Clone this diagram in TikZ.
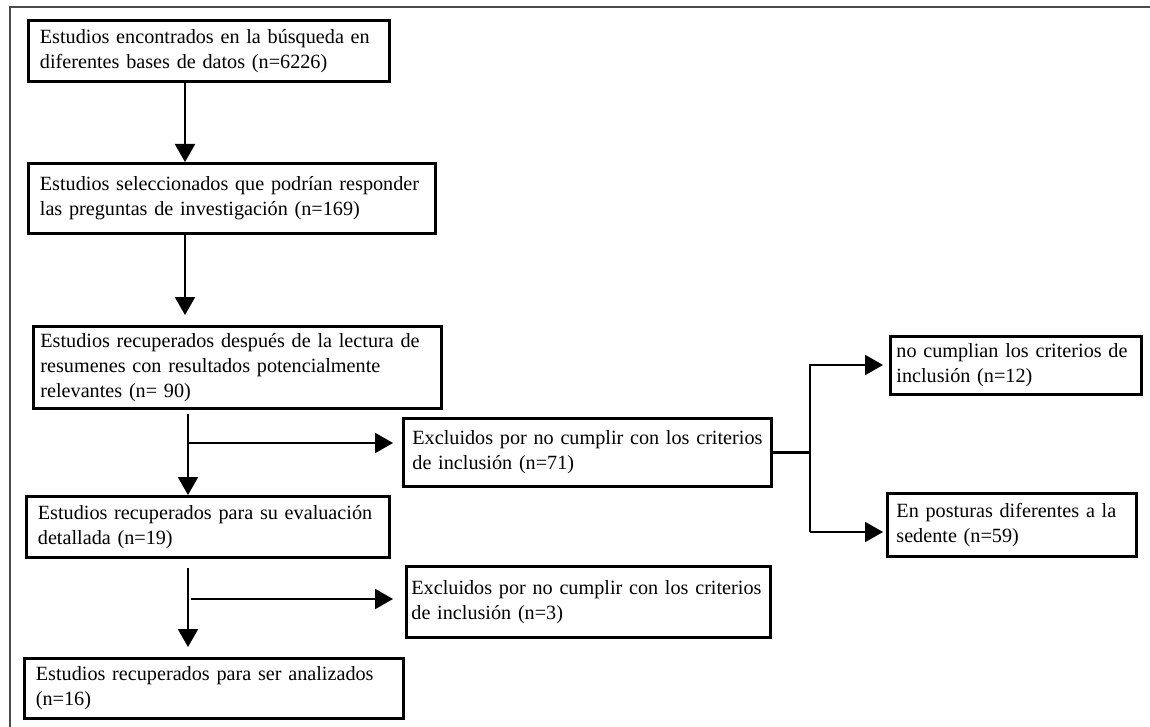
\documentclass[tikz,border=0pt]{standalone}
\usepackage{fontspec}
\setmainfont{Liberation Serif}
\usepackage{tikz}
\usetikzlibrary{arrows.meta}

\begin{document}
\begin{tikzpicture}[x=1pt,y=-1pt]
						\tikzstyle{caja}=[draw=black,line width=2.8pt,anchor=north west,align=left,inner xsep=11.5pt,inner ysep=0pt,font=\fontsize{20.2}{25}\selectfont]
						\tikzstyle{linea}=[line width=2.3pt]
						\tikzstyle{flecha}=[linea,-{Triangle[length=18pt,width=20pt]}]
						\useasboundingbox (0,0) rectangle (1150,727);
						\draw[line width=1.3pt,black!70] (10,727) -- (10,7) -- (1150,7);
						% columna principal
						\node[caja,text width=338pt,minimum height=61pt](enc) at (27,19) {\mbox{Estudios encontrados en la búsqueda en}\\ \mbox{diferentes bases de datos (n=6226)}};
						\node[caja,text width=384pt,minimum height=70pt](sel) at (27,162) {\mbox{Estudios seleccionados que podrían responder}\\ \mbox{las preguntas de investigación (n=169)}};
						\node[caja,inner xsep=7pt,text width=394pt,minimum height=82pt](rec) at (32,325) {\mbox{Estudios recuperados después de la lectura de}\\ \mbox{resumenes con resultados potencialmente}\\ \mbox{relevantes (n= 90)}};
						\node[caja,text width=340pt,minimum height=61pt](eva) at (25,495) {\mbox{Estudios recuperados para su evaluación}\\ \mbox{detallada (n=19)}};
						\node[caja,text width=356pt,minimum height=60pt](ana) at (23,657) {\mbox{Estudios recuperados para ser analizados}\\ \mbox{(n=16)}};
						% excluidos
						\node[caja,inner xsep=9pt,text width=350pt,minimum height=68pt](exc1) at (402,417) {\mbox{Excluidos por no cumplir con los criterios}\\ \mbox{de inclusión (n=71)}};
						\node[caja,inner xsep=5pt,text width=354pt,minimum height=71pt](exc2) at (405,565) {\mbox{Excluidos por no cumplir con los criterios}\\ \mbox{de inclusión (n=3)}};
						\node[caja,inner xsep=6pt,text width=239pt,minimum height=58pt](nc) at (889,335) {\mbox{no cumplian los criterios de}\\ \mbox{inclusión (n=12)}};
						\node[caja,inner xsep=9pt,text width=231pt,minimum height=63pt](pos) at (886,492) {\mbox{En posturas diferentes a la}\\ \mbox{sedente (n=59)}};
						\coordinate (eje1) at (185,0);
						\coordinate (eje2) at (188,0);
						\coordinate (r1) at (188,443);
						\coordinate (r2) at (191,599);
						\coordinate (d2) at (810,365);
						\coordinate (d3) at (810,532);
						\draw[flecha] (enc.south -| eje1) -- (sel.north -| eje1);
						\draw[flecha,shorten >=10pt] (sel.south -| eje1) -- (rec.north -| eje1);
						\draw[flecha,shorten <=4pt] (rec.south -| eje2) -- (eva.north -| eje2);
						\draw[flecha,shorten >=9pt] (r1) -- (r1 -| exc1.west);
						\draw[flecha,shorten <=9pt,shorten >=10pt] (eva.south -| eje2) -- (ana.north -| eje2);
						\draw[flecha,shorten >=12pt] (r2) -- (r2 -| exc2.west);
						\draw[linea] (exc1.east) -- (exc1.east -| d2);
						\draw[flecha,shorten >=6pt] (d3) -- (d2) -- (d2 -| nc.west);
						\draw[flecha,shorten >=3pt] (d3) -- (d3 -| pos.west);
					\end{tikzpicture}
\end{document}
